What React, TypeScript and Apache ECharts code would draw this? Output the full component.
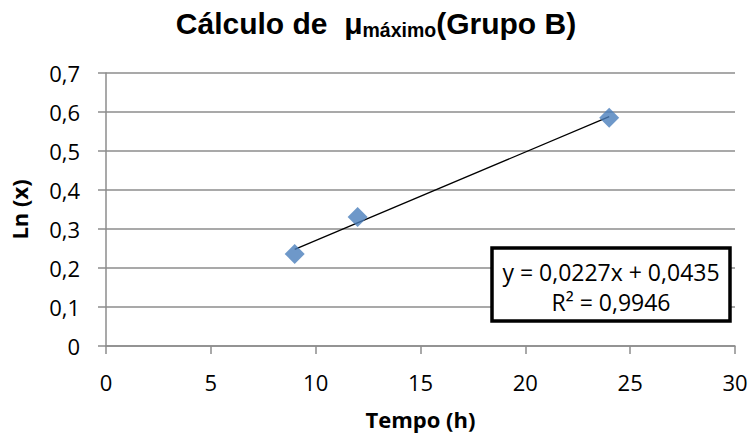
import React, { useEffect, useRef } from "react";
import * as echarts from "echarts";

const tempo = [9, 12, 24];
const lnX = [0.236, 0.331, 0.585];
const trendX = [9, 24];
const trendY = [0.248, 0.588];
const xTicks = { min: 0, max: 30, interval: 5 };
const yTicks = { min: 0, max: 0.7, interval: 0.1 };
const equation = "y = 0,0227x + 0,0435";
const r2 = "R² = 0,9946";

const fmt = (v: number) => String(Math.round(v * 10) / 10).replace(".", ",");

export default function App() {
  const ref = useRef<HTMLDivElement>(null);
  useEffect(() => {
    const chart = echarts.init(ref.current!, null, { renderer: "svg" });
    const gray = "#8c8c8c";
    const tickFont = "Open Sans";
    chart.setOption({
      animation: false,
      backgroundColor: "#ffffff",
      title: {
        text: "{a|Cálculo de  μ}{s|máximo}{a|(Grupo B)}",
        left: "center",
        top: 6,
        padding: 0,
        textStyle: {
          rich: {
            a: { fontFamily: "Liberation Sans", fontWeight: "bold", fontSize: 30, lineHeight: 34, color: "#000" },
            s: { fontFamily: "Liberation Sans", fontWeight: "bold", fontSize: 19.5, lineHeight: 16, color: "#000", verticalAlign: "bottom" },
          },
        },
      },
      grid: { left: 105, right: 17, top: 73, bottom: 91 },
      xAxis: {
        type: "value",
        min: xTicks.min,
        max: xTicks.max,
        interval: xTicks.interval,
        name: "Tempo (h)",
        nameLocation: "middle",
        nameGap: 62,
        nameTextStyle: { fontFamily: tickFont, fontWeight: "bold", fontSize: 22, color: "#000" },
        axisLine: { show: true, onZero: false, lineStyle: { color: gray, width: 1.5 } },
        axisTick: { show: true, length: 8, lineStyle: { color: gray, width: 1.5 } },
        axisLabel: { fontFamily: tickFont, fontSize: 22, color: "#000", margin: 25, formatter: fmt },
        splitLine: { show: false },
      },
      yAxis: {
        type: "value",
        min: yTicks.min,
        max: yTicks.max,
        interval: yTicks.interval,
        name: "Ln (x)",
        nameLocation: "middle",
        nameGap: 76,
        nameTextStyle: { fontFamily: tickFont, fontWeight: "bold", fontSize: 22, color: "#000" },
        axisLine: { show: true, lineStyle: { color: gray, width: 1.5 } },
        axisTick: { show: true, length: 8, lineStyle: { color: gray, width: 1.5 } },
        axisLabel: { fontFamily: tickFont, fontSize: 22, color: "#000", margin: 26, formatter: fmt },
        splitLine: { show: true, lineStyle: { color: gray, width: 1.5 } },
      },
      series: [
        {
          type: "line",
          data: trendX.map((x, i) => [x, trendY[i]]),
          showSymbol: false,
          symbol: "none",
          lineStyle: { color: "#000", width: 1.3 },
          z: 2,
        },
        {
          type: "scatter",
          data: tempo.map((x, i) => [x, lnX[i]]),
          symbol: "diamond",
          symbolSize: [20, 20],
          itemStyle: { color: "#4A7EBB" },
          z: 3,
        },
      ],
      graphic: [
        { type: "rect", z: 10, shape: { x: 492, y: 248, width: 238, height: 73 }, style: { fill: "#fff", stroke: "#000", lineWidth: 3.5 } },
        { type: "text", z: 11, x: 611, y: 272, style: { text: equation, fontFamily: tickFont, fontSize: 23, fill: "#000", align: "center", verticalAlign: "middle" } },
        { type: "text", z: 11, x: 611, y: 302, style: { text: r2, fontFamily: tickFont, fontSize: 23, fill: "#000", align: "center", verticalAlign: "middle" } },
      ],
    });
    return () => chart.dispose();
  }, []);
  return <div ref={ref} style={{ position: "fixed", left: 0, top: 0, width: 752, height: 437 }} />;
}
